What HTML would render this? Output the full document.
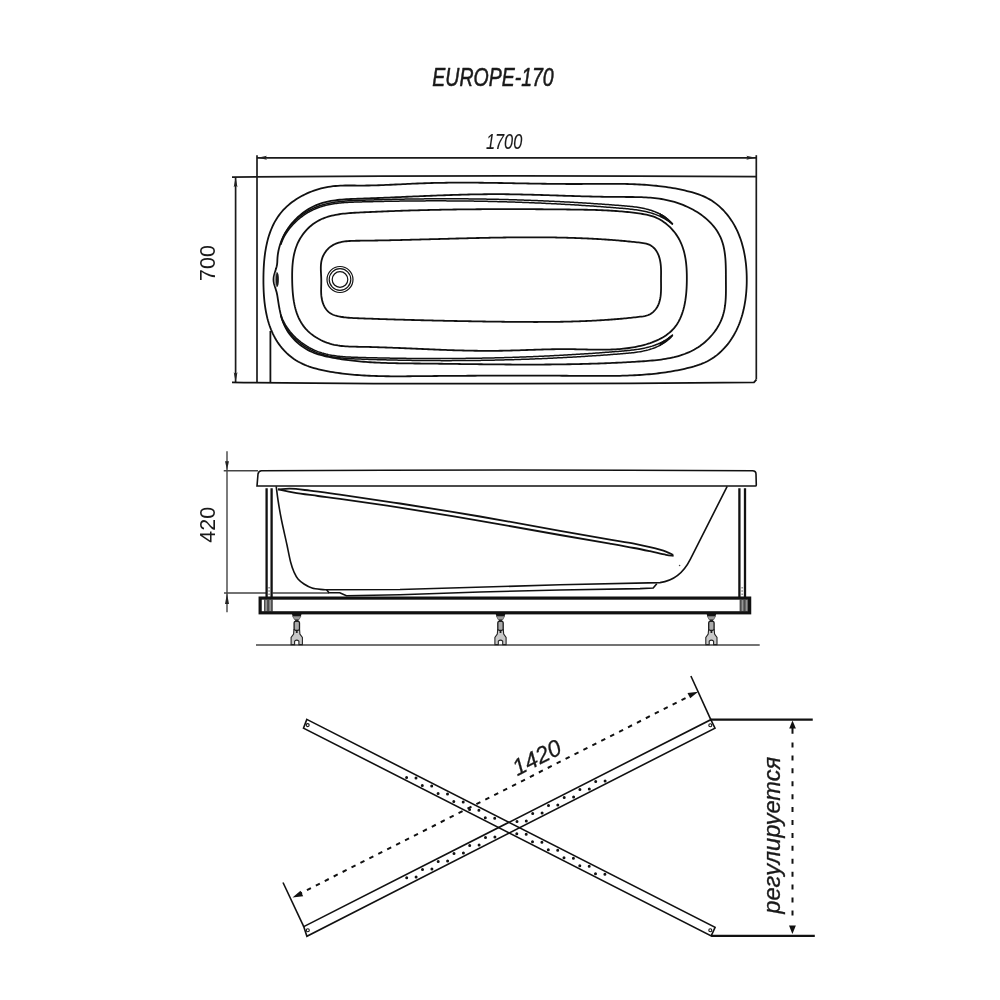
<!DOCTYPE html>
<html><head><meta charset="utf-8"><style>
html,body{margin:0;padding:0;background:#fff;}
svg{display:block;will-change:transform;}
text{font-family:"Liberation Sans",sans-serif;}
</style></head><body>
<svg width="1000" height="1000" viewBox="0 0 1000 1000">
<rect width="1000" height="1000" fill="#fff"/>
<text x="432.3" y="86" font-size="25" font-style="italic" fill="#1a1a1a" stroke="#1a1a1a" stroke-width="0.55" stroke-linejoin="round" textLength="121.4" lengthAdjust="spacingAndGlyphs">EUROPE-170</text>
<text x="485.9" y="149" font-size="21.3" font-style="italic" fill="#1a1a1a" stroke="#1a1a1a" stroke-width="0.1" stroke-linejoin="round" textLength="36.4" lengthAdjust="spacingAndGlyphs">1700</text>

<g stroke="#1a1a1a" stroke-width="1.7" fill="none">
<path d="M257 157.8 H756"/>
<path d="M257 155.2 V382.5"/>
<path d="M756.3 155.2 V379.5"/>
<path d="M232 177.1 Q494 174.7 756.3 176.7"/>
<path d="M235.6 177 V382"/>
</g>
<g fill="#222">
<path d="M257.5 157.8 L267 155.8 L265.3 157.8 L267 159.8 Z"/>
<path d="M755.8 157.8 L746.3 155.8 L748 157.8 L746.3 159.8 Z"/>
<path d="M235.6 177.6 L233.7 187.2 L235.6 185.4 L237.5 187.2 Z"/>
<path d="M235.6 381.8 L233.7 372.2 L235.6 374 L237.5 372.2 Z"/>
</g>
<text transform="translate(215.2,263.1) rotate(-90)" font-size="21.5" text-anchor="middle" fill="#1a1a1a">700</text>

<g stroke="#111" stroke-width="1.8" fill="none">
<path d="M756.4 379.6 L754 382.3 Q493 385.1 232 382.3"/>
<path d="M270.4 331 V382"/>
<path d="M263.43 279.74 L263.44 277.23 L263.48 274.72 L263.54 272.22 L263.63 269.72 L263.75 267.23 L263.90 264.74 L264.08 262.26 L264.30 259.79 L264.55 257.34 L264.85 254.90 L265.18 252.47 L265.56 250.06 L265.98 247.68 L266.45 245.31 L266.96 242.96 L267.53 240.65 L268.15 238.35 L268.82 236.09 L269.55 233.85 L270.34 231.65 L271.18 229.48 L272.09 227.34 L273.06 225.24 L274.09 223.18 L275.20 221.16 L276.37 219.18 L277.61 217.25 L278.93 215.36 L280.32 213.52 L281.79 211.72 L283.33 209.98 L284.96 208.29 L286.66 206.65 L288.43 205.07 L290.27 203.54 L292.18 202.07 L294.15 200.66 L296.17 199.30 L298.24 198.00 L300.37 196.76 L302.54 195.58 L304.75 194.47 L307.00 193.41 L309.28 192.42 L311.59 191.50 L313.92 190.64 L316.28 189.84 L318.66 189.12 L321.05 188.46 L323.45 187.87 L325.86 187.35 L328.27 186.90 L330.68 186.52 L333.09 186.22 L335.49 185.98 L337.89 185.79 L340.29 185.66 L342.68 185.56 L345.07 185.51 L347.47 185.48 L349.86 185.48 L352.25 185.49 L354.64 185.51 L357.03 185.53 L359.43 185.55 L361.83 185.55 L364.23 185.54 L366.63 185.52 L369.03 185.48 L371.44 185.43 L373.85 185.37 L376.26 185.31 L378.67 185.23 L381.08 185.15 L383.49 185.05 L385.91 184.96 L388.32 184.85 L390.74 184.75 L393.16 184.63 L395.57 184.52 L397.99 184.40 L400.41 184.29 L402.83 184.17 L405.25 184.05 L407.67 183.94 L410.09 183.82 L412.51 183.71 L414.92 183.61 L417.34 183.50 L419.76 183.41 L422.18 183.32 L424.59 183.24 L427.01 183.16 L429.42 183.09 L431.83 183.02 L434.25 182.96 L436.66 182.91 L439.07 182.86 L441.48 182.82 L443.89 182.78 L446.30 182.75 L448.71 182.72 L451.12 182.70 L453.53 182.68 L455.94 182.67 L458.35 182.66 L460.75 182.65 L463.16 182.65 L465.57 182.65 L467.98 182.66 L470.38 182.67 L472.79 182.68 L475.19 182.70 L477.60 182.72 L480.01 182.74 L482.41 182.76 L484.82 182.79 L487.22 182.82 L489.63 182.85 L492.03 182.88 L494.44 182.91 L496.84 182.95 L499.25 182.99 L501.65 183.02 L504.06 183.06 L506.46 183.11 L508.87 183.15 L511.28 183.19 L513.68 183.23 L516.09 183.28 L518.50 183.32 L520.90 183.36 L523.31 183.41 L525.72 183.45 L528.13 183.49 L530.53 183.53 L532.94 183.57 L535.35 183.61 L537.76 183.65 L540.17 183.69 L542.58 183.73 L544.99 183.76 L547.41 183.80 L549.82 183.83 L552.23 183.86 L554.64 183.88 L557.06 183.91 L559.47 183.93 L561.89 183.95 L564.31 183.96 L566.72 183.98 L569.14 183.99 L571.56 184.00 L573.98 184.00 L576.40 184.00 L578.82 183.99 L581.25 183.99 L583.67 183.97 L586.09 183.96 L588.52 183.94 L590.95 183.92 L593.37 183.91 L595.80 183.89 L598.22 183.87 L600.65 183.85 L603.08 183.84 L605.50 183.83 L607.93 183.83 L610.35 183.83 L612.78 183.83 L615.20 183.84 L617.63 183.86 L620.05 183.89 L622.47 183.92 L624.89 183.97 L627.31 184.02 L629.73 184.09 L632.15 184.17 L634.56 184.26 L636.97 184.36 L639.39 184.48 L641.80 184.61 L644.20 184.76 L646.61 184.93 L649.01 185.11 L651.41 185.31 L653.81 185.53 L656.21 185.77 L658.60 186.03 L660.99 186.31 L663.38 186.61 L665.76 186.94 L668.14 187.29 L670.52 187.66 L672.89 188.06 L675.26 188.48 L677.63 188.93 L679.99 189.41 L682.35 189.91 L684.71 190.45 L687.06 191.01 L689.40 191.61 L691.74 192.24 L694.07 192.91 L696.37 193.63 L698.66 194.41 L700.92 195.25 L703.15 196.16 L705.34 197.14 L707.49 198.20 L709.60 199.36 L711.66 200.60 L713.67 201.93 L715.62 203.35 L717.52 204.85 L719.35 206.42 L721.13 208.05 L722.84 209.74 L724.49 211.49 L726.07 213.28 L727.59 215.12 L729.03 217.00 L730.42 218.92 L731.74 220.88 L732.99 222.88 L734.18 224.92 L735.31 226.99 L736.39 229.10 L737.40 231.23 L738.35 233.40 L739.25 235.60 L740.09 237.82 L740.88 240.07 L741.61 242.35 L742.29 244.65 L742.91 246.97 L743.49 249.31 L744.01 251.67 L744.49 254.05 L744.91 256.45 L745.29 258.85 L745.63 261.27 L745.92 263.71 L746.16 266.15 L746.36 268.60 L746.52 271.06 L746.64 273.52 L746.72 275.98 L746.75 278.45 L746.75 280.92 L746.72 283.39 L746.64 285.86 L746.52 288.32 L746.36 290.78 L746.16 293.23 L745.92 295.68 L745.63 298.11 L745.29 300.53 L744.91 302.94 L744.49 305.34 L744.01 307.72 L743.49 310.08 L742.91 312.43 L742.29 314.75 L741.61 317.05 L740.88 319.33 L740.09 321.59 L739.25 323.82 L738.35 326.02 L737.40 328.19 L736.39 330.33 L735.32 332.44 L734.18 334.51 L732.99 336.55 L731.74 338.55 L730.42 340.51 L729.04 342.44 L727.59 344.32 L726.07 346.16 L724.49 347.96 L722.85 349.70 L721.13 351.40 L719.36 353.03 L717.52 354.60 L715.62 356.09 L713.67 357.51 L711.66 358.83 L709.60 360.06 L707.49 361.20 L705.34 362.24 L703.15 363.21 L700.92 364.09 L698.66 364.91 L696.37 365.67 L694.06 366.37 L691.73 367.02 L689.39 367.63 L687.05 368.22 L684.70 368.77 L682.34 369.29 L679.98 369.80 L677.62 370.27 L675.25 370.72 L672.88 371.15 L670.51 371.55 L668.13 371.94 L665.75 372.30 L663.37 372.63 L660.98 372.95 L658.59 373.25 L656.20 373.53 L653.81 373.79 L651.41 374.03 L649.01 374.25 L646.61 374.46 L644.20 374.65 L641.80 374.82 L639.39 374.98 L636.98 375.12 L634.57 375.25 L632.15 375.37 L629.74 375.47 L627.32 375.57 L624.90 375.65 L622.49 375.72 L620.07 375.78 L617.64 375.83 L615.22 375.87 L612.80 375.90 L610.37 375.93 L607.95 375.95 L605.52 375.96 L603.10 375.96 L600.67 375.96 L598.25 375.96 L595.82 375.95 L593.40 375.94 L590.97 375.93 L588.55 375.91 L586.12 375.89 L583.70 375.88 L581.27 375.86 L578.85 375.84 L576.43 375.82 L574.00 375.81 L571.58 375.79 L569.16 375.78 L566.74 375.76 L564.32 375.75 L561.91 375.73 L559.49 375.72 L557.07 375.71 L554.65 375.70 L552.24 375.69 L549.82 375.68 L547.41 375.67 L544.99 375.66 L542.58 375.66 L540.17 375.65 L537.75 375.65 L535.34 375.64 L532.93 375.64 L530.52 375.63 L528.11 375.63 L525.70 375.63 L523.29 375.62 L520.88 375.62 L518.47 375.62 L516.06 375.62 L513.65 375.62 L511.24 375.63 L508.83 375.63 L506.42 375.63 L504.02 375.63 L501.61 375.64 L499.20 375.64 L496.79 375.65 L494.39 375.66 L491.98 375.66 L489.57 375.67 L487.17 375.68 L484.76 375.69 L482.36 375.70 L479.95 375.71 L477.54 375.72 L475.14 375.73 L472.73 375.74 L470.33 375.75 L467.92 375.76 L465.51 375.78 L463.11 375.79 L460.70 375.81 L458.30 375.82 L455.89 375.84 L453.48 375.86 L451.08 375.87 L448.67 375.89 L446.27 375.91 L443.86 375.93 L441.45 375.95 L439.04 375.97 L436.64 375.99 L434.23 376.01 L431.82 376.03 L429.41 376.05 L427.01 376.08 L424.60 376.10 L422.19 376.12 L419.78 376.15 L417.37 376.17 L414.96 376.20 L412.55 376.22 L410.14 376.24 L407.73 376.26 L405.32 376.28 L402.91 376.30 L400.50 376.30 L398.08 376.31 L395.67 376.31 L393.26 376.30 L390.85 376.29 L388.44 376.27 L386.02 376.24 L383.61 376.20 L381.20 376.15 L378.79 376.09 L376.38 376.02 L373.96 375.94 L371.55 375.85 L369.14 375.75 L366.73 375.63 L364.32 375.49 L361.90 375.35 L359.49 375.18 L357.08 375.00 L354.67 374.81 L352.26 374.59 L349.85 374.36 L347.44 374.11 L345.03 373.84 L342.62 373.55 L340.21 373.24 L337.80 372.90 L335.39 372.55 L332.98 372.17 L330.57 371.77 L328.16 371.35 L325.76 370.89 L323.36 370.41 L320.97 369.88 L318.60 369.32 L316.24 368.71 L313.90 368.05 L311.58 367.34 L309.29 366.57 L307.02 365.74 L304.79 364.83 L302.60 363.86 L300.44 362.81 L298.33 361.68 L296.26 360.47 L294.24 359.16 L292.27 357.77 L290.36 356.28 L288.51 354.72 L286.72 353.08 L285.01 351.39 L283.37 349.63 L281.81 347.84 L280.34 345.99 L278.94 344.11 L277.61 342.18 L276.36 340.21 L275.18 338.21 L274.07 336.16 L273.03 334.09 L272.06 331.97 L271.15 329.83 L270.30 327.65 L269.51 325.45 L268.78 323.21 L268.11 320.95 L267.49 318.66 L266.92 316.35 L266.41 314.02 L265.94 311.66 L265.52 309.28 L265.14 306.89 L264.81 304.48 L264.52 302.05 L264.27 299.61 L264.05 297.16 L263.87 294.69 L263.73 292.21 L263.61 289.73 L263.53 287.24 L263.47 284.74 L263.43 282.24 L263.43 279.74 Z"/>
<path d="M277.37 259.88 L277.50 257.64 L277.72 255.42 L278.03 253.22 L278.42 251.04 L278.90 248.87 L279.46 246.73 L280.10 244.61 L280.81 242.51 L281.61 240.45 L282.48 238.41 L283.41 236.41 L284.42 234.44 L285.50 232.51 L286.65 230.61 L287.85 228.75 L289.12 226.94 L290.45 225.17 L291.84 223.44 L293.29 221.76 L294.79 220.13 L296.34 218.56 L297.94 217.03 L299.59 215.56 L301.28 214.15 L303.03 212.80 L304.81 211.51 L306.63 210.29 L308.49 209.12 L310.39 208.03 L312.32 207.00 L314.29 206.05 L316.28 205.17 L318.31 204.36 L320.36 203.63 L322.43 202.97 L324.53 202.38 L326.65 201.85 L328.79 201.38 L330.95 200.96 L333.13 200.60 L335.32 200.28 L337.53 200.00 L339.75 199.76 L341.98 199.56 L344.22 199.38 L346.47 199.24 L348.73 199.11 L350.99 199.00 L353.25 198.91 L355.51 198.83 L357.78 198.75 L360.04 198.67 L362.30 198.59 L364.56 198.51 L366.81 198.43 L369.07 198.35 L371.31 198.26 L373.56 198.18 L375.81 198.09 L378.05 198.00 L380.29 197.91 L382.52 197.82 L384.76 197.72 L386.99 197.63 L389.22 197.53 L391.45 197.44 L393.68 197.34 L395.90 197.25 L398.13 197.15 L400.35 197.05 L402.57 196.96 L404.78 196.86 L407.00 196.76 L409.21 196.66 L411.43 196.57 L413.64 196.47 L415.85 196.38 L418.06 196.28 L420.27 196.19 L422.47 196.09 L424.68 196.00 L426.88 195.91 L429.09 195.82 L431.29 195.73 L433.50 195.64 L435.70 195.55 L437.90 195.47 L440.10 195.39 L442.30 195.31 L444.50 195.23 L446.70 195.15 L448.90 195.07 L451.10 195.00 L453.30 194.93 L455.49 194.86 L457.69 194.80 L459.89 194.74 L462.09 194.68 L464.29 194.62 L466.49 194.57 L468.69 194.52 L470.89 194.47 L473.09 194.42 L475.29 194.38 L477.49 194.35 L479.69 194.31 L481.90 194.28 L484.10 194.26 L486.31 194.24 L488.51 194.22 L490.72 194.21 L492.93 194.20 L495.14 194.19 L497.35 194.20 L499.56 194.20 L501.77 194.21 L503.98 194.22 L506.20 194.24 L508.42 194.27 L510.63 194.29 L512.85 194.33 L515.07 194.36 L517.29 194.40 L519.51 194.44 L521.74 194.49 L523.96 194.54 L526.18 194.59 L528.41 194.64 L530.63 194.70 L532.86 194.76 L535.09 194.82 L537.32 194.88 L539.54 194.95 L541.77 195.01 L544.00 195.08 L546.23 195.15 L548.46 195.22 L550.69 195.29 L552.92 195.36 L555.15 195.43 L557.38 195.51 L559.61 195.58 L561.84 195.65 L564.06 195.73 L566.29 195.80 L568.52 195.87 L570.75 195.94 L572.98 196.01 L575.21 196.08 L577.44 196.15 L579.66 196.22 L581.89 196.28 L584.12 196.34 L586.34 196.40 L588.57 196.46 L590.79 196.52 L593.01 196.57 L595.24 196.63 L597.46 196.67 L599.68 196.72 L601.90 196.76 L604.12 196.80 L606.33 196.84 L608.55 196.87 L610.76 196.90 L612.98 196.92 L615.19 196.94 L617.40 196.96 L619.61 196.97 L621.82 196.97 L624.03 196.97 L626.23 196.98 L628.43 196.98 L630.64 196.99 L632.84 197.01 L635.04 197.03 L637.24 197.07 L639.43 197.12 L641.63 197.19 L643.82 197.28 L646.02 197.39 L648.21 197.53 L650.40 197.69 L652.59 197.88 L654.78 198.11 L656.96 198.36 L659.15 198.66 L661.33 199.00 L663.52 199.37 L665.70 199.79 L667.88 200.26 L670.06 200.78 L672.24 201.35 L674.41 201.97 L676.58 202.64 L678.73 203.36 L680.87 204.13 L683.00 204.95 L685.10 205.83 L687.18 206.75 L689.24 207.72 L691.27 208.74 L693.26 209.80 L695.22 210.92 L697.15 212.09 L699.03 213.30 L700.87 214.57 L702.67 215.88 L704.41 217.24 L706.11 218.64 L707.75 220.10 L709.33 221.60 L710.85 223.15 L712.30 224.74 L713.69 226.38 L715.01 228.07 L716.26 229.81 L717.43 231.59 L718.52 233.42 L719.53 235.29 L720.46 237.21 L721.30 239.17 L722.05 241.18 L722.71 243.24 L723.30 245.33 L723.80 247.46 L724.23 249.62 L724.60 251.81 L724.91 254.03 L725.16 256.27 L725.37 258.53 L725.53 260.81 L725.65 263.10 L725.74 265.40 L725.80 267.71 L725.85 270.03 L725.87 272.34 L725.88 274.65 L725.89 276.96 L725.90 279.26 L725.91 281.54 L725.93 283.81 L725.94 286.07 L725.95 288.32 L725.94 290.55 L725.92 292.76 L725.87 294.96 L725.79 297.15 L725.67 299.32 L725.51 301.48 L725.30 303.62 L725.04 305.74 L724.72 307.85 L724.33 309.95 L723.88 312.03 L723.34 314.09 L722.73 316.13 L722.03 318.16 L721.23 320.17 L720.34 322.17 L719.35 324.14 L718.29 326.08 L717.13 327.99 L715.90 329.87 L714.59 331.71 L713.21 333.50 L711.76 335.26 L710.25 336.96 L708.67 338.60 L707.04 340.20 L705.35 341.72 L703.62 343.19 L701.85 344.59 L700.05 345.91 L698.21 347.16 L696.34 348.33 L694.45 349.44 L692.53 350.47 L690.58 351.45 L688.61 352.35 L686.61 353.20 L684.59 353.99 L682.55 354.72 L680.50 355.40 L678.42 356.02 L676.32 356.60 L674.20 357.14 L672.07 357.63 L669.93 358.08 L667.77 358.49 L665.60 358.87 L663.42 359.21 L661.22 359.52 L659.02 359.81 L656.81 360.07 L654.59 360.30 L652.37 360.52 L650.14 360.72 L647.90 360.90 L645.67 361.07 L643.43 361.23 L641.19 361.38 L638.96 361.52 L636.72 361.67 L634.48 361.80 L632.25 361.94 L630.01 362.07 L627.78 362.19 L625.55 362.31 L623.32 362.43 L621.09 362.54 L618.86 362.66 L616.63 362.76 L614.40 362.86 L612.18 362.96 L609.95 363.06 L607.73 363.15 L605.50 363.24 L603.28 363.33 L601.06 363.41 L598.84 363.49 L596.61 363.56 L594.39 363.64 L592.17 363.70 L589.95 363.77 L587.73 363.83 L585.52 363.89 L583.30 363.95 L581.08 364.01 L578.87 364.06 L576.65 364.11 L574.43 364.15 L572.22 364.20 L570.00 364.24 L567.79 364.27 L565.57 364.31 L563.36 364.34 L561.15 364.37 L558.94 364.40 L556.72 364.43 L554.51 364.45 L552.30 364.47 L550.09 364.49 L547.88 364.51 L545.66 364.52 L543.45 364.54 L541.24 364.55 L539.03 364.56 L536.82 364.56 L534.61 364.57 L532.40 364.57 L530.19 364.57 L527.98 364.57 L525.77 364.57 L523.56 364.57 L521.35 364.56 L519.14 364.56 L516.93 364.55 L514.72 364.54 L512.51 364.53 L510.30 364.52 L508.09 364.50 L505.88 364.49 L503.67 364.47 L501.46 364.46 L499.25 364.44 L497.03 364.42 L494.82 364.40 L492.61 364.38 L490.40 364.36 L488.19 364.34 L485.97 364.31 L483.76 364.29 L481.55 364.27 L479.33 364.24 L477.12 364.22 L474.91 364.19 L472.69 364.16 L470.48 364.14 L468.26 364.11 L466.04 364.08 L463.83 364.06 L461.61 364.03 L459.39 364.00 L457.17 363.97 L454.95 363.94 L452.73 363.91 L450.51 363.89 L448.29 363.86 L446.07 363.83 L443.85 363.80 L441.63 363.77 L439.40 363.75 L437.18 363.72 L434.95 363.69 L432.73 363.67 L430.50 363.64 L428.27 363.62 L426.04 363.59 L423.81 363.57 L421.58 363.55 L419.35 363.52 L417.12 363.50 L414.89 363.48 L412.66 363.46 L410.42 363.43 L408.19 363.41 L405.95 363.38 L403.72 363.35 L401.49 363.32 L399.25 363.28 L397.02 363.24 L394.79 363.20 L392.55 363.15 L390.32 363.09 L388.09 363.03 L385.87 362.96 L383.64 362.88 L381.41 362.80 L379.19 362.70 L376.97 362.60 L374.74 362.49 L372.53 362.36 L370.31 362.23 L368.10 362.09 L365.89 361.93 L363.68 361.76 L361.47 361.58 L359.27 361.39 L357.07 361.18 L354.87 360.96 L352.68 360.72 L350.49 360.47 L348.30 360.20 L346.12 359.91 L343.94 359.61 L341.77 359.29 L339.60 358.95 L337.44 358.60 L335.28 358.22 L333.12 357.82 L330.97 357.41 L328.82 356.97 L326.69 356.51 L324.56 356.01 L322.44 355.48 L320.33 354.90 L318.24 354.27 L316.17 353.58 L314.12 352.83 L312.09 352.00 L310.09 351.09 L308.12 350.11 L306.17 349.02 L304.26 347.86 L302.39 346.60 L300.57 345.27 L298.79 343.86 L297.07 342.37 L295.41 340.82 L293.82 339.20 L292.29 337.52 L290.85 335.78 L289.48 333.99 L288.20 332.15 L287.01 330.26 L285.92 328.33 L284.93 326.37 L284.02 324.37 L283.20 322.33 L282.45 320.27 L281.78 318.19 L281.17 316.08 L280.61 313.95 L280.11 311.81 L279.65 309.65 L279.24 307.49 L278.85 305.31 L278.49 303.14 L278.15 300.96 L277.83 298.79 L277.49 296.62 L277.11 294.46 L276.63 292.30 L276.02 290.15 L275.33 288.00 L274.64 285.85 L274.05 283.70 L273.64 281.56 L273.50 279.40 L273.68 277.25 L274.12 275.09 L274.72 272.93 L275.40 270.78 L276.07 268.62 L276.65 266.48 L277.08 264.32 L277.29 262.12 L277.37 259.88 Z"/>
<path d="M292.17 279.59 L292.14 277.61 L292.14 275.64 L292.15 273.68 L292.19 271.72 L292.25 269.77 L292.34 267.83 L292.46 265.90 L292.62 263.98 L292.81 262.07 L293.05 260.17 L293.33 258.28 L293.65 256.41 L294.03 254.55 L294.46 252.71 L294.94 250.88 L295.48 249.06 L296.09 247.27 L296.76 245.49 L297.49 243.73 L298.30 241.99 L299.18 240.27 L300.14 238.58 L301.17 236.90 L302.27 235.27 L303.44 233.66 L304.67 232.11 L305.95 230.60 L307.29 229.15 L308.68 227.76 L310.11 226.44 L311.59 225.19 L313.10 224.02 L314.65 222.92 L316.23 221.91 L317.85 220.96 L319.50 220.09 L321.17 219.28 L322.87 218.54 L324.60 217.86 L326.36 217.24 L328.14 216.67 L329.94 216.15 L331.76 215.68 L333.61 215.26 L335.47 214.88 L337.34 214.54 L339.23 214.24 L341.14 213.97 L343.06 213.73 L344.99 213.52 L346.93 213.33 L348.87 213.17 L350.83 213.02 L352.78 212.89 L354.75 212.77 L356.71 212.66 L358.67 212.56 L360.64 212.46 L362.60 212.36 L364.56 212.27 L366.53 212.17 L368.48 212.08 L370.44 211.99 L372.40 211.90 L374.36 211.81 L376.31 211.73 L378.26 211.64 L380.22 211.56 L382.17 211.48 L384.12 211.40 L386.07 211.32 L388.01 211.25 L389.96 211.17 L391.91 211.10 L393.85 211.03 L395.79 210.96 L397.74 210.89 L399.68 210.82 L401.62 210.76 L403.56 210.69 L405.50 210.63 L407.44 210.57 L409.37 210.51 L411.31 210.45 L413.25 210.40 L415.18 210.34 L417.12 210.29 L419.05 210.24 L420.98 210.19 L422.91 210.14 L424.85 210.09 L426.78 210.04 L428.71 210.00 L430.64 209.95 L432.56 209.91 L434.49 209.87 L436.42 209.83 L438.35 209.79 L440.27 209.75 L442.20 209.71 L444.13 209.68 L446.05 209.65 L447.98 209.61 L449.90 209.58 L451.83 209.55 L453.75 209.52 L455.67 209.49 L457.60 209.47 L459.52 209.44 L461.44 209.42 L463.36 209.39 L465.28 209.37 L467.21 209.35 L469.13 209.33 L471.05 209.31 L472.97 209.29 L474.89 209.28 L476.81 209.26 L478.73 209.25 L480.65 209.23 L482.57 209.22 L484.50 209.21 L486.42 209.20 L488.34 209.19 L490.26 209.18 L492.18 209.17 L494.10 209.17 L496.02 209.16 L497.94 209.16 L499.86 209.15 L501.78 209.15 L503.70 209.15 L505.63 209.14 L507.55 209.14 L509.47 209.14 L511.39 209.15 L513.31 209.15 L515.24 209.15 L517.16 209.15 L519.08 209.16 L521.01 209.16 L522.93 209.17 L524.86 209.18 L526.78 209.18 L528.71 209.19 L530.63 209.20 L532.56 209.21 L534.49 209.22 L536.41 209.23 L538.34 209.24 L540.27 209.26 L542.20 209.27 L544.13 209.28 L546.06 209.30 L547.99 209.31 L549.92 209.33 L551.85 209.34 L553.79 209.36 L555.72 209.38 L557.65 209.40 L559.59 209.42 L561.53 209.43 L563.46 209.45 L565.40 209.47 L567.34 209.49 L569.28 209.52 L571.22 209.54 L573.16 209.56 L575.10 209.58 L577.04 209.61 L578.99 209.63 L580.93 209.66 L582.87 209.69 L584.82 209.73 L586.76 209.77 L588.70 209.81 L590.65 209.85 L592.59 209.90 L594.53 209.96 L596.48 210.02 L598.42 210.08 L600.36 210.16 L602.30 210.23 L604.24 210.32 L606.17 210.41 L608.11 210.51 L610.05 210.62 L611.98 210.73 L613.91 210.85 L615.84 210.99 L617.77 211.13 L619.70 211.28 L621.63 211.44 L623.55 211.61 L625.47 211.80 L627.39 211.99 L629.31 212.19 L631.22 212.41 L633.13 212.64 L635.04 212.88 L636.94 213.14 L638.85 213.41 L640.75 213.69 L642.64 213.99 L644.53 214.32 L646.41 214.68 L648.27 215.09 L650.12 215.56 L651.95 216.10 L653.76 216.71 L655.55 217.41 L657.30 218.19 L659.03 219.07 L660.72 220.02 L662.38 221.05 L664.00 222.16 L665.57 223.33 L667.10 224.57 L668.58 225.86 L670.01 227.21 L671.39 228.61 L672.71 230.06 L673.96 231.55 L675.15 233.07 L676.28 234.63 L677.34 236.21 L678.32 237.82 L679.24 239.46 L680.09 241.12 L680.89 242.81 L681.62 244.51 L682.29 246.24 L682.90 247.99 L683.46 249.77 L683.97 251.56 L684.43 253.37 L684.84 255.20 L685.21 257.05 L685.53 258.91 L685.81 260.80 L686.05 262.69 L686.26 264.61 L686.43 266.53 L686.57 268.47 L686.67 270.42 L686.75 272.39 L686.81 274.37 L686.83 276.35 L686.84 278.35 L686.83 280.35 L686.80 282.37 L686.75 284.39 L686.67 286.41 L686.57 288.43 L686.44 290.45 L686.29 292.46 L686.10 294.47 L685.88 296.47 L685.62 298.45 L685.33 300.43 L685.00 302.38 L684.63 304.32 L684.22 306.23 L683.76 308.12 L683.26 309.99 L682.70 311.82 L682.10 313.63 L681.44 315.40 L680.74 317.13 L679.97 318.83 L679.15 320.49 L678.26 322.10 L677.32 323.67 L676.31 325.19 L675.24 326.65 L674.10 328.07 L672.88 329.43 L671.60 330.73 L670.25 331.98 L668.84 333.17 L667.37 334.31 L665.85 335.40 L664.27 336.44 L662.64 337.42 L660.97 338.36 L659.25 339.25 L657.50 340.09 L655.72 340.89 L653.90 341.64 L652.06 342.36 L650.19 343.03 L648.31 343.65 L646.41 344.25 L644.50 344.80 L642.57 345.31 L640.65 345.79 L638.72 346.24 L636.80 346.65 L634.87 347.03 L632.94 347.38 L631.02 347.70 L629.09 347.99 L627.17 348.26 L625.24 348.50 L623.32 348.71 L621.40 348.90 L619.47 349.06 L617.55 349.21 L615.62 349.33 L613.70 349.44 L611.78 349.52 L609.85 349.59 L607.93 349.65 L606.01 349.68 L604.09 349.71 L602.16 349.72 L600.24 349.72 L598.32 349.72 L596.39 349.70 L594.47 349.67 L592.55 349.64 L590.62 349.60 L588.70 349.56 L586.77 349.52 L584.85 349.47 L582.92 349.42 L581.00 349.37 L579.07 349.33 L577.15 349.28 L575.22 349.24 L573.30 349.21 L571.37 349.18 L569.44 349.16 L567.52 349.14 L565.59 349.14 L563.66 349.14 L561.73 349.15 L559.80 349.16 L557.87 349.18 L555.94 349.20 L554.01 349.24 L552.08 349.27 L550.15 349.31 L548.22 349.36 L546.29 349.41 L544.36 349.46 L542.43 349.51 L540.50 349.57 L538.56 349.63 L536.63 349.69 L534.70 349.76 L532.77 349.82 L530.83 349.89 L528.90 349.96 L526.97 350.02 L525.03 350.09 L523.10 350.16 L521.17 350.22 L519.23 350.28 L517.30 350.35 L515.37 350.41 L513.43 350.47 L511.50 350.52 L509.57 350.57 L507.63 350.62 L505.70 350.67 L503.76 350.71 L501.83 350.74 L499.90 350.77 L497.96 350.80 L496.03 350.82 L494.10 350.84 L492.16 350.85 L490.23 350.85 L488.29 350.86 L486.36 350.85 L484.43 350.85 L482.49 350.83 L480.56 350.82 L478.63 350.80 L476.69 350.77 L474.76 350.75 L472.83 350.71 L470.90 350.68 L468.96 350.64 L467.03 350.60 L465.10 350.55 L463.17 350.51 L461.23 350.46 L459.30 350.40 L457.37 350.35 L455.44 350.29 L453.50 350.23 L451.57 350.16 L449.64 350.10 L447.71 350.03 L445.78 349.96 L443.85 349.89 L441.91 349.81 L439.98 349.74 L438.05 349.66 L436.12 349.58 L434.19 349.50 L432.26 349.42 L430.33 349.34 L428.40 349.26 L426.47 349.18 L424.54 349.10 L422.61 349.01 L420.68 348.93 L418.75 348.84 L416.82 348.76 L414.89 348.67 L412.96 348.59 L411.03 348.51 L409.10 348.42 L407.18 348.34 L405.25 348.26 L403.32 348.18 L401.39 348.09 L399.46 348.01 L397.53 347.94 L395.61 347.86 L393.68 347.78 L391.75 347.71 L389.83 347.63 L387.90 347.56 L385.97 347.49 L384.05 347.43 L382.12 347.36 L380.19 347.30 L378.27 347.24 L376.34 347.18 L374.42 347.12 L372.49 347.07 L370.57 347.02 L368.64 346.97 L366.72 346.93 L364.79 346.89 L362.87 346.85 L360.95 346.82 L359.02 346.79 L357.10 346.76 L355.18 346.72 L353.25 346.68 L351.33 346.63 L349.42 346.55 L347.50 346.46 L345.59 346.34 L343.67 346.18 L341.77 345.99 L339.86 345.76 L337.96 345.48 L336.06 345.14 L334.16 344.76 L332.27 344.31 L330.39 343.80 L328.51 343.21 L326.64 342.56 L324.79 341.84 L322.95 341.06 L321.14 340.21 L319.36 339.30 L317.62 338.33 L315.91 337.30 L314.25 336.21 L312.64 335.06 L311.09 333.87 L309.59 332.61 L308.17 331.31 L306.81 329.96 L305.52 328.56 L304.32 327.12 L303.18 325.63 L302.12 324.10 L301.13 322.53 L300.21 320.92 L299.35 319.27 L298.55 317.59 L297.82 315.88 L297.14 314.13 L296.52 312.36 L295.95 310.56 L295.43 308.73 L294.96 306.88 L294.54 305.01 L294.16 303.12 L293.82 301.22 L293.52 299.29 L293.26 297.35 L293.03 295.40 L292.83 293.44 L292.67 291.47 L292.53 289.50 L292.42 287.52 L292.32 285.53 L292.25 283.55 L292.20 281.57 L292.17 279.59 Z"/>
<path d="M321.27 279.78 L321.23 278.15 L321.16 276.51 L321.07 274.87 L320.99 273.23 L320.91 271.59 L320.85 269.95 L320.83 268.33 L320.85 266.71 L320.92 265.11 L321.06 263.53 L321.28 261.96 L321.58 260.42 L321.99 258.91 L322.50 257.42 L323.10 255.98 L323.80 254.57 L324.58 253.22 L325.44 251.92 L326.38 250.68 L327.39 249.52 L328.46 248.42 L329.59 247.41 L330.77 246.48 L332.00 245.65 L333.27 244.90 L334.59 244.23 L335.95 243.64 L337.34 243.13 L338.77 242.68 L340.23 242.29 L341.72 241.96 L343.24 241.68 L344.78 241.45 L346.34 241.26 L347.93 241.11 L349.53 241.00 L351.14 240.91 L352.76 240.85 L354.39 240.80 L356.03 240.77 L357.67 240.75 L359.31 240.73 L360.95 240.71 L362.59 240.70 L364.23 240.68 L365.86 240.66 L367.49 240.64 L369.12 240.61 L370.75 240.59 L372.37 240.57 L374.00 240.54 L375.62 240.51 L377.24 240.49 L378.86 240.46 L380.47 240.43 L382.09 240.40 L383.70 240.37 L385.31 240.34 L386.92 240.31 L388.53 240.28 L390.14 240.24 L391.74 240.21 L393.34 240.18 L394.94 240.14 L396.54 240.10 L398.14 240.07 L399.74 240.03 L401.34 239.99 L402.93 239.96 L404.52 239.92 L406.12 239.88 L407.71 239.84 L409.30 239.80 L410.88 239.76 L412.47 239.72 L414.06 239.68 L415.64 239.64 L417.23 239.59 L418.81 239.55 L420.39 239.51 L421.97 239.47 L423.55 239.43 L425.13 239.38 L426.71 239.34 L428.29 239.30 L429.87 239.25 L431.44 239.21 L433.02 239.17 L434.59 239.12 L436.17 239.08 L437.74 239.04 L439.31 238.99 L440.89 238.95 L442.46 238.91 L444.03 238.86 L445.60 238.82 L447.17 238.78 L448.74 238.73 L450.31 238.69 L451.88 238.65 L453.45 238.61 L455.02 238.56 L456.59 238.52 L458.16 238.48 L459.73 238.44 L461.30 238.40 L462.87 238.36 L464.44 238.32 L466.00 238.28 L467.57 238.24 L469.14 238.20 L470.71 238.16 L472.28 238.12 L473.85 238.09 L475.42 238.05 L476.99 238.01 L478.56 237.98 L480.13 237.94 L481.70 237.91 L483.27 237.88 L484.84 237.84 L486.42 237.81 L487.99 237.78 L489.56 237.75 L491.14 237.72 L492.71 237.69 L494.28 237.66 L495.86 237.63 L497.44 237.60 L499.01 237.58 L500.59 237.55 L502.17 237.53 L503.75 237.51 L505.33 237.48 L506.91 237.46 L508.49 237.44 L510.07 237.42 L511.66 237.41 L513.24 237.39 L514.82 237.37 L516.41 237.36 L517.99 237.35 L519.58 237.34 L521.17 237.33 L522.75 237.32 L524.34 237.31 L525.93 237.30 L527.52 237.30 L529.10 237.29 L530.69 237.29 L532.28 237.29 L533.87 237.29 L535.46 237.30 L537.05 237.30 L538.64 237.31 L540.23 237.32 L541.82 237.33 L543.41 237.34 L545.01 237.35 L546.60 237.37 L548.19 237.38 L549.78 237.40 L551.37 237.42 L552.97 237.45 L554.56 237.47 L556.15 237.50 L557.74 237.53 L559.33 237.56 L560.93 237.59 L562.52 237.62 L564.11 237.66 L565.70 237.70 L567.29 237.74 L568.89 237.79 L570.48 237.83 L572.07 237.88 L573.66 237.93 L575.25 237.99 L576.84 238.04 L578.43 238.10 L580.02 238.16 L581.61 238.23 L583.20 238.29 L584.79 238.36 L586.38 238.43 L587.97 238.51 L589.56 238.58 L591.15 238.66 L592.74 238.75 L594.32 238.83 L595.91 238.92 L597.50 239.01 L599.08 239.10 L600.67 239.20 L602.25 239.30 L603.84 239.40 L605.42 239.51 L607.00 239.62 L608.58 239.73 L610.17 239.84 L611.75 239.96 L613.33 240.08 L614.91 240.21 L616.48 240.33 L618.06 240.47 L619.64 240.60 L621.22 240.74 L622.79 240.88 L624.37 241.02 L625.94 241.17 L627.51 241.32 L629.08 241.48 L630.65 241.63 L632.22 241.80 L633.79 241.96 L635.36 242.13 L636.93 242.30 L638.49 242.48 L640.06 242.66 L641.62 242.84 L643.18 243.05 L644.72 243.30 L646.23 243.63 L647.70 244.06 L649.13 244.61 L650.50 245.31 L651.80 246.15 L653.03 247.13 L654.19 248.22 L655.25 249.42 L656.22 250.71 L657.09 252.10 L657.85 253.56 L658.51 255.07 L659.07 256.64 L659.55 258.24 L659.95 259.86 L660.27 261.49 L660.53 263.11 L660.72 264.71 L660.87 266.29 L660.97 267.85 L661.03 269.40 L661.07 270.95 L661.07 272.49 L661.07 274.03 L661.05 275.58 L661.03 277.13 L661.02 278.71 L661.02 280.30 L661.03 281.91 L661.05 283.54 L661.06 285.18 L661.07 286.83 L661.06 288.48 L661.02 290.13 L660.96 291.78 L660.86 293.42 L660.72 295.05 L660.52 296.66 L660.26 298.26 L659.94 299.82 L659.55 301.36 L659.08 302.87 L658.52 304.35 L657.86 305.78 L657.11 307.17 L656.25 308.51 L655.28 309.79 L654.22 310.99 L653.07 312.09 L651.84 313.09 L650.54 313.96 L649.17 314.69 L647.74 315.27 L646.26 315.71 L644.74 316.06 L643.19 316.32 L641.63 316.54 L640.05 316.73 L638.48 316.92 L636.90 317.11 L635.33 317.29 L633.76 317.47 L632.18 317.64 L630.60 317.81 L629.03 317.97 L627.45 318.13 L625.88 318.29 L624.30 318.44 L622.72 318.59 L621.14 318.73 L619.56 318.87 L617.99 319.01 L616.41 319.14 L614.83 319.27 L613.25 319.39 L611.67 319.52 L610.09 319.63 L608.51 319.75 L606.93 319.86 L605.35 319.97 L603.77 320.07 L602.19 320.17 L600.60 320.27 L599.02 320.36 L597.44 320.45 L595.86 320.54 L594.27 320.63 L592.69 320.71 L591.11 320.79 L589.53 320.86 L587.94 320.94 L586.36 321.01 L584.78 321.07 L583.19 321.14 L581.61 321.20 L580.02 321.26 L578.44 321.31 L576.85 321.37 L575.27 321.42 L573.68 321.46 L572.10 321.51 L570.51 321.55 L568.93 321.59 L567.34 321.63 L565.76 321.67 L564.17 321.70 L562.59 321.73 L561.00 321.76 L559.41 321.79 L557.83 321.82 L556.24 321.84 L554.66 321.86 L553.07 321.88 L551.48 321.90 L549.90 321.91 L548.31 321.93 L546.72 321.94 L545.14 321.95 L543.55 321.96 L541.96 321.96 L540.38 321.97 L538.79 321.97 L537.20 321.98 L535.62 321.98 L534.03 321.98 L532.45 321.97 L530.86 321.97 L529.27 321.97 L527.69 321.96 L526.10 321.95 L524.51 321.95 L522.93 321.94 L521.34 321.93 L519.76 321.92 L518.17 321.90 L516.58 321.89 L515.00 321.88 L513.41 321.86 L511.83 321.85 L510.24 321.83 L508.66 321.81 L507.07 321.80 L505.49 321.78 L503.90 321.76 L502.32 321.74 L500.73 321.72 L499.15 321.70 L497.56 321.68 L495.98 321.66 L494.40 321.64 L492.81 321.62 L491.23 321.59 L489.64 321.57 L488.06 321.55 L486.48 321.53 L484.89 321.50 L483.31 321.48 L481.73 321.45 L480.15 321.43 L478.56 321.40 L476.98 321.38 L475.40 321.35 L473.82 321.33 L472.23 321.30 L470.65 321.27 L469.07 321.24 L467.49 321.22 L465.90 321.19 L464.32 321.16 L462.74 321.13 L461.16 321.10 L459.58 321.07 L457.99 321.04 L456.41 321.01 L454.83 320.98 L453.25 320.95 L451.67 320.91 L450.08 320.88 L448.50 320.85 L446.92 320.82 L445.34 320.78 L443.76 320.75 L442.18 320.71 L440.59 320.68 L439.01 320.64 L437.43 320.61 L435.85 320.57 L434.26 320.53 L432.68 320.50 L431.10 320.46 L429.52 320.42 L427.94 320.38 L426.35 320.34 L424.77 320.31 L423.19 320.27 L421.60 320.23 L420.02 320.19 L418.44 320.14 L416.86 320.10 L415.27 320.06 L413.69 320.02 L412.11 319.98 L410.52 319.93 L408.94 319.89 L407.35 319.85 L405.77 319.80 L404.19 319.76 L402.60 319.71 L401.02 319.67 L399.43 319.62 L397.85 319.57 L396.26 319.53 L394.68 319.48 L393.09 319.43 L391.51 319.38 L389.92 319.34 L388.33 319.29 L386.75 319.24 L385.16 319.19 L383.58 319.14 L381.99 319.09 L380.40 319.03 L378.81 318.98 L377.23 318.93 L375.64 318.88 L374.05 318.83 L372.46 318.77 L370.87 318.72 L369.28 318.66 L367.69 318.61 L366.11 318.55 L364.52 318.50 L362.93 318.44 L361.33 318.38 L359.74 318.33 L358.15 318.27 L356.56 318.21 L354.97 318.14 L353.38 318.06 L351.79 317.97 L350.20 317.86 L348.61 317.74 L347.02 317.60 L345.44 317.43 L343.85 317.24 L342.27 317.01 L340.69 316.76 L339.11 316.47 L337.54 316.13 L335.99 315.74 L334.48 315.27 L333.02 314.72 L331.62 314.07 L330.30 313.30 L329.07 312.40 L327.94 311.38 L326.89 310.25 L325.94 309.03 L325.08 307.72 L324.31 306.34 L323.62 304.89 L323.03 303.41 L322.52 301.88 L322.10 300.34 L321.77 298.79 L321.51 297.23 L321.33 295.67 L321.21 294.11 L321.14 292.54 L321.11 290.97 L321.12 289.39 L321.15 287.81 L321.19 286.22 L321.23 284.62 L321.26 283.02 L321.28 281.40 L321.27 279.78 Z"/>
</g>
<g stroke="#111" stroke-width="1.5" fill="none">
<path d="M280.62 244.47 L280.97 243.12 L281.36 241.78 L281.80 240.46 L282.27 239.16 L282.79 237.88 L283.35 236.62 L283.95 235.38 L284.58 234.15 L285.26 232.95 L285.96 231.76 L286.71 230.60 L287.48 229.45 L288.29 228.32 L289.13 227.22 L289.99 226.13 L290.89 225.06 L291.81 224.02 L292.77 222.99 L293.74 221.99 L294.74 221.00 L295.76 220.04 L296.81 219.10 L297.87 218.18 L298.96 217.28 L300.06 216.40 L301.18 215.55 L302.32 214.72 L303.47 213.91 L304.64 213.13 L305.83 212.37 L307.03 211.64 L308.24 210.93 L309.46 210.25 L310.70 209.59 L311.95 208.97 L313.20 208.37 L314.47 207.80 L315.74 207.26 L317.02 206.74 L318.31 206.26 L319.61 205.80 L320.91 205.37 L322.22 204.96 L323.54 204.58 L324.86 204.22 L326.19 203.88 L327.53 203.57 L328.87 203.27 L330.22 203.00 L331.57 202.74 L332.92 202.51 L334.28 202.29 L335.65 202.08 L337.02 201.90 L338.39 201.72 L339.77 201.57 L341.15 201.42 L342.53 201.29 L343.91 201.17 L345.30 201.06 L346.69 200.96 L348.08 200.86 L349.48 200.78 L350.87 200.70 L352.27 200.63 L353.67 200.57 L355.07 200.51 L356.47 200.45 L357.87 200.40 L359.27 200.35 L360.67 200.30 L362.07 200.25 L363.46 200.20 L364.86 200.15 L366.26 200.11 L367.66 200.06 L369.06 200.02 L370.46 199.97 L371.85 199.93 L373.25 199.89 L374.65 199.84 L376.04 199.80 L377.44 199.76 L378.83 199.72 L380.23 199.68 L381.63 199.64 L383.02 199.61 L384.41 199.57 L385.81 199.54 L387.20 199.50 L388.60 199.47 L389.99 199.43 L391.38 199.40 L392.78 199.37 L394.17 199.34 L395.56 199.31 L396.96 199.28 L398.35 199.25 L399.74 199.22 L401.13 199.20 L402.52 199.17 L403.92 199.14 L405.31 199.12 L406.70 199.10 L408.09 199.07 L409.48 199.05 L410.87 199.03 L412.26 199.01 L413.65 198.99 L415.04 198.97 L416.43 198.95 L417.82 198.94 L419.21 198.92 L420.60 198.91 L421.99 198.89 L423.38 198.88 L424.77 198.86 L426.15 198.85 L427.54 198.84 L428.93 198.83 L430.32 198.82 L431.71 198.81 L433.10 198.80 L434.48 198.80 L435.87 198.79 L437.26 198.78 L438.65 198.78 L440.03 198.78 L441.42 198.77 L442.81 198.77 L444.20 198.77 L445.58 198.77 L446.97 198.77 L448.36 198.77 L449.74 198.77 L451.13 198.77 L452.52 198.78 L453.90 198.78 L455.29 198.79 L456.68 198.79 L458.06 198.80 L459.45 198.81 L460.83 198.82 L462.22 198.83 L463.61 198.84 L464.99 198.85 L466.38 198.86 L467.76 198.87 L469.15 198.88 L470.54 198.90 L471.92 198.91 L473.31 198.93 L474.69 198.95 L476.08 198.97 L477.47 198.98 L478.85 199.00 L480.24 199.02 L481.62 199.04 L483.01 199.07 L484.39 199.09 L485.78 199.11 L487.17 199.14 L488.55 199.16 L489.94 199.19 L491.32 199.22 L492.71 199.24 L494.10 199.27 L495.48 199.30 L496.87 199.33 L498.25 199.37 L499.64 199.40 L501.03 199.43 L502.41 199.46 L503.80 199.50 L505.19 199.54 L506.57 199.57 L507.96 199.61 L509.35 199.65 L510.73 199.69 L512.12 199.73 L513.51 199.77 L514.89 199.81 L516.28 199.85 L517.67 199.90 L519.05 199.94 L520.44 199.98 L521.83 200.03 L523.22 200.08 L524.60 200.13 L525.99 200.17 L527.38 200.22 L528.77 200.27 L530.16 200.33 L531.55 200.38 L532.93 200.43 L534.32 200.48 L535.71 200.54 L537.10 200.59 L538.49 200.65 L539.88 200.71 L541.27 200.77 L542.66 200.83 L544.05 200.89 L545.44 200.95 L546.83 201.01 L548.22 201.07 L549.61 201.14 L551.00 201.20 L552.39 201.27 L553.78 201.33 L555.17 201.40 L556.56 201.47 L557.95 201.54 L559.35 201.61 L560.74 201.68 L562.13 201.75 L563.52 201.82 L564.92 201.89 L566.31 201.97 L567.70 202.04 L569.10 202.12 L570.49 202.20 L571.88 202.27 L573.28 202.35 L574.67 202.43 L576.07 202.51 L577.46 202.59 L578.86 202.68 L580.25 202.76 L581.65 202.84 L583.04 202.93 L584.44 203.01 L585.84 203.10 L587.23 203.19 L588.63 203.28 L590.03 203.37 L591.43 203.46 L592.82 203.55 L594.22 203.64 L595.62 203.73 L597.02 203.83 L598.42 203.92 L599.82 204.02 L601.22 204.11 L602.62 204.21 L604.02 204.31 L605.42 204.41 L606.82 204.51 L608.22 204.61 L609.62 204.71 L611.03 204.82 L612.43 204.92 L613.83 205.03 L615.24 205.13 L616.64 205.24 L618.04 205.35 L619.45 205.45 L620.85 205.56 L622.26 205.67 L623.66 205.79 L625.07 205.91 L626.47 206.03 L627.87 206.16 L629.27 206.29 L630.66 206.43 L632.05 206.59 L633.44 206.75 L634.83 206.92 L636.21 207.11 L637.58 207.31 L638.95 207.52 L640.31 207.76 L641.66 208.00 L643.01 208.27 L644.35 208.56 L645.68 208.86 L647.00 209.19 L648.32 209.54 L649.62 209.92 L650.91 210.32 L652.20 210.74 L653.47 211.19 L654.73 211.67 L655.97 212.19 L657.21 212.73 L658.43 213.30 L659.63 213.90 L660.83 214.54 L662.00 215.22 L663.17 215.93 L664.31 216.68 L665.44 217.46 L666.56 218.29 L667.65 219.15 L668.73 220.06 L669.79 221.01 L670.83 222.01 L671.85 223.05 L672.86 224.14"/>
<path d="M280.87 244.51 L281.32 243.22 L281.80 241.94 L282.32 240.68 L282.87 239.43 L283.46 238.19 L284.08 236.97 L284.74 235.76 L285.42 234.57 L286.14 233.40 L286.89 232.24 L287.67 231.09 L288.48 229.97 L289.32 228.86 L290.18 227.77 L291.07 226.70 L291.98 225.65 L292.92 224.61 L293.88 223.60 L294.87 222.61 L295.87 221.64 L296.90 220.69 L297.95 219.76 L299.01 218.86 L300.10 217.97 L301.20 217.11 L302.32 216.28 L303.45 215.47 L304.60 214.68 L305.77 213.92 L306.95 213.18 L308.14 212.47 L309.34 211.78 L310.56 211.12 L311.79 210.49 L313.02 209.89 L314.27 209.32 L315.53 208.77 L316.79 208.25 L318.06 207.76 L319.34 207.30 L320.63 206.86 L321.92 206.45 L323.22 206.07 L324.53 205.71 L325.84 205.37 L327.16 205.06 L328.48 204.76 L329.81 204.49 L331.15 204.24 L332.49 204.00 L333.83 203.79 L335.18 203.59 L336.54 203.41 L337.90 203.24 L339.26 203.09 L340.62 202.95 L341.99 202.82 L343.36 202.71 L344.73 202.60 L346.11 202.51 L347.49 202.43 L348.87 202.35 L350.25 202.28 L351.64 202.22 L353.02 202.17 L354.41 202.12 L355.80 202.07 L357.18 202.03 L358.57 201.99 L359.96 201.95 L361.35 201.91 L362.73 201.87 L364.12 201.84 L365.51 201.80 L366.90 201.76 L368.28 201.73 L369.67 201.69 L371.06 201.66 L372.44 201.63 L373.83 201.59 L375.21 201.56 L376.60 201.53 L377.99 201.50 L379.37 201.47 L380.76 201.44 L382.14 201.41 L383.53 201.39 L384.91 201.36 L386.29 201.33 L387.68 201.31 L389.06 201.28 L390.45 201.26 L391.83 201.24 L393.21 201.21 L394.60 201.19 L395.98 201.17 L397.36 201.15 L398.75 201.13 L400.13 201.11 L401.51 201.09 L402.89 201.07 L404.28 201.05 L405.66 201.04 L407.04 201.02 L408.42 201.01 L409.81 200.99 L411.19 200.98 L412.57 200.97 L413.95 200.95 L415.33 200.94 L416.71 200.93 L418.09 200.92 L419.47 200.91 L420.86 200.90 L422.24 200.89 L423.62 200.89 L425.00 200.88 L426.38 200.87 L427.76 200.87 L429.14 200.86 L430.52 200.86 L431.90 200.86 L433.28 200.86 L434.66 200.85 L436.04 200.85 L437.42 200.85 L438.80 200.86 L440.18 200.86 L441.55 200.86 L442.93 200.86 L444.31 200.87 L445.69 200.87 L447.07 200.88 L448.45 200.88 L449.83 200.89 L451.21 200.90 L452.59 200.91 L453.96 200.91 L455.34 200.92 L456.72 200.93 L458.10 200.95 L459.48 200.96 L460.86 200.97 L462.24 200.99 L463.61 201.00 L464.99 201.02 L466.37 201.03 L467.75 201.05 L469.13 201.07 L470.50 201.09 L471.88 201.10 L473.26 201.12 L474.64 201.15 L476.01 201.17 L477.39 201.19 L478.77 201.21 L480.15 201.24 L481.53 201.26 L482.90 201.29 L484.28 201.31 L485.66 201.34 L487.04 201.37 L488.41 201.40 L489.79 201.43 L491.17 201.46 L492.55 201.49 L493.92 201.52 L495.30 201.56 L496.68 201.59 L498.06 201.63 L499.43 201.66 L500.81 201.70 L502.19 201.73 L503.57 201.77 L504.94 201.81 L506.32 201.85 L507.70 201.89 L509.08 201.93 L510.45 201.98 L511.83 202.02 L513.21 202.06 L514.59 202.11 L515.96 202.15 L517.34 202.20 L518.72 202.25 L520.10 202.29 L521.47 202.34 L522.85 202.39 L524.23 202.44 L525.61 202.50 L526.98 202.55 L528.36 202.60 L529.74 202.66 L531.12 202.71 L532.50 202.77 L533.87 202.82 L535.25 202.88 L536.63 202.94 L538.01 203.00 L539.39 203.06 L540.77 203.12 L542.14 203.18 L543.52 203.25 L544.90 203.31 L546.28 203.38 L547.66 203.44 L549.04 203.51 L550.42 203.57 L551.79 203.64 L553.17 203.71 L554.55 203.78 L555.93 203.85 L557.31 203.93 L558.69 204.00 L560.07 204.07 L561.45 204.15 L562.83 204.22 L564.21 204.30 L565.59 204.38 L566.97 204.46 L568.35 204.53 L569.73 204.61 L571.11 204.70 L572.49 204.78 L573.87 204.86 L575.25 204.94 L576.63 205.03 L578.01 205.12 L579.39 205.20 L580.77 205.29 L582.15 205.38 L583.53 205.47 L584.92 205.56 L586.30 205.65 L587.68 205.74 L589.06 205.83 L590.44 205.93 L591.82 206.02 L593.21 206.12 L594.59 206.22 L595.97 206.32 L597.35 206.41 L598.74 206.51 L600.12 206.62 L601.50 206.72 L602.88 206.82 L604.27 206.92 L605.65 207.03 L607.04 207.13 L608.42 207.24 L609.80 207.35 L611.19 207.46 L612.57 207.57 L613.96 207.68 L615.34 207.79 L616.72 207.90 L618.11 208.01 L619.49 208.13 L620.88 208.25 L622.27 208.36 L623.65 208.48 L625.03 208.60 L626.42 208.73 L627.80 208.86 L629.18 209.00 L630.56 209.15 L631.93 209.30 L633.31 209.47 L634.68 209.64 L636.04 209.83 L637.40 210.02 L638.76 210.23 L640.12 210.46 L641.47 210.70 L642.81 210.95 L644.15 211.22 L645.48 211.51 L646.81 211.82 L648.13 212.15 L649.44 212.50 L650.75 212.87 L652.05 213.26 L653.34 213.68 L654.62 214.12 L655.89 214.59 L657.16 215.08 L658.41 215.60 L659.66 216.15 L660.90 216.73 L662.12 217.33 L663.34 217.97 L664.54 218.65 L665.73 219.35 L666.91 220.09 L668.08 220.87 L669.24 221.68 L670.39 222.52 L671.52 223.41 L672.63 224.33"/>
<path d="M280.62 314.93 L280.97 316.28 L281.36 317.62 L281.80 318.94 L282.27 320.24 L282.79 321.52 L283.35 322.78 L283.95 324.02 L284.58 325.25 L285.26 326.45 L285.96 327.64 L286.71 328.80 L287.48 329.95 L288.29 331.08 L289.13 332.18 L289.99 333.27 L290.89 334.34 L291.81 335.38 L292.77 336.41 L293.74 337.41 L294.74 338.40 L295.76 339.36 L296.81 340.30 L297.87 341.22 L298.96 342.12 L300.06 343.00 L301.18 343.85 L302.32 344.68 L303.47 345.49 L304.64 346.27 L305.83 347.03 L307.03 347.76 L308.24 348.47 L309.46 349.15 L310.70 349.81 L311.95 350.43 L313.20 351.03 L314.47 351.60 L315.74 352.14 L317.02 352.66 L318.31 353.14 L319.61 353.60 L320.91 354.03 L322.22 354.44 L323.54 354.82 L324.86 355.18 L326.19 355.52 L327.53 355.83 L328.87 356.13 L330.22 356.40 L331.57 356.66 L332.92 356.89 L334.28 357.11 L335.65 357.32 L337.02 357.50 L338.39 357.68 L339.77 357.83 L341.15 357.98 L342.53 358.11 L343.91 358.23 L345.30 358.34 L346.69 358.44 L348.08 358.54 L349.48 358.62 L350.87 358.70 L352.27 358.77 L353.67 358.83 L355.07 358.89 L356.47 358.95 L357.87 359.00 L359.27 359.05 L360.67 359.10 L362.07 359.15 L363.46 359.20 L364.86 359.25 L366.26 359.29 L367.66 359.34 L369.06 359.38 L370.46 359.43 L371.85 359.47 L373.25 359.51 L374.65 359.56 L376.04 359.60 L377.44 359.64 L378.83 359.68 L380.23 359.72 L381.63 359.76 L383.02 359.79 L384.41 359.83 L385.81 359.86 L387.20 359.90 L388.60 359.93 L389.99 359.97 L391.38 360.00 L392.78 360.03 L394.17 360.06 L395.56 360.09 L396.96 360.12 L398.35 360.15 L399.74 360.18 L401.13 360.20 L402.52 360.23 L403.92 360.26 L405.31 360.28 L406.70 360.30 L408.09 360.33 L409.48 360.35 L410.87 360.37 L412.26 360.39 L413.65 360.41 L415.04 360.43 L416.43 360.45 L417.82 360.46 L419.21 360.48 L420.60 360.49 L421.99 360.51 L423.38 360.52 L424.77 360.54 L426.15 360.55 L427.54 360.56 L428.93 360.57 L430.32 360.58 L431.71 360.59 L433.10 360.60 L434.48 360.60 L435.87 360.61 L437.26 360.62 L438.65 360.62 L440.03 360.62 L441.42 360.63 L442.81 360.63 L444.20 360.63 L445.58 360.63 L446.97 360.63 L448.36 360.63 L449.74 360.63 L451.13 360.63 L452.52 360.62 L453.90 360.62 L455.29 360.61 L456.68 360.61 L458.06 360.60 L459.45 360.59 L460.83 360.58 L462.22 360.57 L463.61 360.56 L464.99 360.55 L466.38 360.54 L467.76 360.53 L469.15 360.52 L470.54 360.50 L471.92 360.49 L473.31 360.47 L474.69 360.45 L476.08 360.43 L477.47 360.42 L478.85 360.40 L480.24 360.38 L481.62 360.36 L483.01 360.33 L484.39 360.31 L485.78 360.29 L487.17 360.26 L488.55 360.24 L489.94 360.21 L491.32 360.18 L492.71 360.16 L494.10 360.13 L495.48 360.10 L496.87 360.07 L498.25 360.03 L499.64 360.00 L501.03 359.97 L502.41 359.94 L503.80 359.90 L505.19 359.86 L506.57 359.83 L507.96 359.79 L509.35 359.75 L510.73 359.71 L512.12 359.67 L513.51 359.63 L514.89 359.59 L516.28 359.55 L517.67 359.50 L519.05 359.46 L520.44 359.42 L521.83 359.37 L523.22 359.32 L524.60 359.27 L525.99 359.23 L527.38 359.18 L528.77 359.13 L530.16 359.07 L531.55 359.02 L532.93 358.97 L534.32 358.92 L535.71 358.86 L537.10 358.81 L538.49 358.75 L539.88 358.69 L541.27 358.63 L542.66 358.57 L544.05 358.51 L545.44 358.45 L546.83 358.39 L548.22 358.33 L549.61 358.26 L551.00 358.20 L552.39 358.13 L553.78 358.07 L555.17 358.00 L556.56 357.93 L557.95 357.86 L559.35 357.79 L560.74 357.72 L562.13 357.65 L563.52 357.58 L564.92 357.51 L566.31 357.43 L567.70 357.36 L569.10 357.28 L570.49 357.20 L571.88 357.13 L573.28 357.05 L574.67 356.97 L576.07 356.89 L577.46 356.81 L578.86 356.72 L580.25 356.64 L581.65 356.56 L583.04 356.47 L584.44 356.39 L585.84 356.30 L587.23 356.21 L588.63 356.12 L590.03 356.03 L591.43 355.94 L592.82 355.85 L594.22 355.76 L595.62 355.67 L597.02 355.57 L598.42 355.48 L599.82 355.38 L601.22 355.29 L602.62 355.19 L604.02 355.09 L605.42 354.99 L606.82 354.89 L608.22 354.79 L609.62 354.69 L611.03 354.58 L612.43 354.48 L613.83 354.37 L615.24 354.27 L616.64 354.16 L618.04 354.05 L619.45 353.95 L620.85 353.84 L622.26 353.73 L623.66 353.61 L625.07 353.49 L626.47 353.37 L627.87 353.24 L629.27 353.11 L630.66 352.97 L632.05 352.81 L633.44 352.65 L634.83 352.48 L636.21 352.29 L637.58 352.09 L638.95 351.88 L640.31 351.64 L641.66 351.40 L643.01 351.13 L644.35 350.84 L645.68 350.54 L647.00 350.21 L648.32 349.86 L649.62 349.48 L650.91 349.08 L652.20 348.66 L653.47 348.21 L654.73 347.73 L655.97 347.21 L657.21 346.67 L658.43 346.10 L659.63 345.50 L660.83 344.86 L662.00 344.18 L663.17 343.47 L664.31 342.72 L665.44 341.94 L666.56 341.11 L667.65 340.25 L668.73 339.34 L669.79 338.39 L670.83 337.39 L671.85 336.35 L672.86 335.26"/>
<path d="M280.87 314.89 L281.32 316.18 L281.80 317.46 L282.32 318.72 L282.87 319.97 L283.46 321.21 L284.08 322.43 L284.74 323.64 L285.42 324.83 L286.14 326.00 L286.89 327.16 L287.67 328.31 L288.48 329.43 L289.32 330.54 L290.18 331.63 L291.07 332.70 L291.98 333.75 L292.92 334.79 L293.88 335.80 L294.87 336.79 L295.87 337.76 L296.90 338.71 L297.95 339.64 L299.01 340.54 L300.10 341.43 L301.20 342.29 L302.32 343.12 L303.45 343.93 L304.60 344.72 L305.77 345.48 L306.95 346.22 L308.14 346.93 L309.34 347.62 L310.56 348.28 L311.79 348.91 L313.02 349.51 L314.27 350.08 L315.53 350.63 L316.79 351.15 L318.06 351.64 L319.34 352.10 L320.63 352.54 L321.92 352.95 L323.22 353.33 L324.53 353.69 L325.84 354.03 L327.16 354.34 L328.48 354.64 L329.81 354.91 L331.15 355.16 L332.49 355.40 L333.83 355.61 L335.18 355.81 L336.54 355.99 L337.90 356.16 L339.26 356.31 L340.62 356.45 L341.99 356.58 L343.36 356.69 L344.73 356.80 L346.11 356.89 L347.49 356.97 L348.87 357.05 L350.25 357.12 L351.64 357.18 L353.02 357.23 L354.41 357.28 L355.80 357.33 L357.18 357.37 L358.57 357.41 L359.96 357.45 L361.35 357.49 L362.73 357.53 L364.12 357.56 L365.51 357.60 L366.90 357.64 L368.28 357.67 L369.67 357.71 L371.06 357.74 L372.44 357.77 L373.83 357.81 L375.21 357.84 L376.60 357.87 L377.99 357.90 L379.37 357.93 L380.76 357.96 L382.14 357.99 L383.53 358.01 L384.91 358.04 L386.29 358.07 L387.68 358.09 L389.06 358.12 L390.45 358.14 L391.83 358.16 L393.21 358.19 L394.60 358.21 L395.98 358.23 L397.36 358.25 L398.75 358.27 L400.13 358.29 L401.51 358.31 L402.89 358.33 L404.28 358.35 L405.66 358.36 L407.04 358.38 L408.42 358.39 L409.81 358.41 L411.19 358.42 L412.57 358.43 L413.95 358.45 L415.33 358.46 L416.71 358.47 L418.09 358.48 L419.47 358.49 L420.86 358.50 L422.24 358.51 L423.62 358.51 L425.00 358.52 L426.38 358.53 L427.76 358.53 L429.14 358.54 L430.52 358.54 L431.90 358.54 L433.28 358.54 L434.66 358.55 L436.04 358.55 L437.42 358.55 L438.80 358.54 L440.18 358.54 L441.55 358.54 L442.93 358.54 L444.31 358.53 L445.69 358.53 L447.07 358.52 L448.45 358.52 L449.83 358.51 L451.21 358.50 L452.59 358.49 L453.96 358.49 L455.34 358.48 L456.72 358.47 L458.10 358.45 L459.48 358.44 L460.86 358.43 L462.24 358.41 L463.61 358.40 L464.99 358.38 L466.37 358.37 L467.75 358.35 L469.13 358.33 L470.50 358.31 L471.88 358.30 L473.26 358.28 L474.64 358.25 L476.01 358.23 L477.39 358.21 L478.77 358.19 L480.15 358.16 L481.53 358.14 L482.90 358.11 L484.28 358.09 L485.66 358.06 L487.04 358.03 L488.41 358.00 L489.79 357.97 L491.17 357.94 L492.55 357.91 L493.92 357.88 L495.30 357.84 L496.68 357.81 L498.06 357.77 L499.43 357.74 L500.81 357.70 L502.19 357.67 L503.57 357.63 L504.94 357.59 L506.32 357.55 L507.70 357.51 L509.08 357.47 L510.45 357.42 L511.83 357.38 L513.21 357.34 L514.59 357.29 L515.96 357.25 L517.34 357.20 L518.72 357.15 L520.10 357.11 L521.47 357.06 L522.85 357.01 L524.23 356.96 L525.61 356.90 L526.98 356.85 L528.36 356.80 L529.74 356.74 L531.12 356.69 L532.50 356.63 L533.87 356.58 L535.25 356.52 L536.63 356.46 L538.01 356.40 L539.39 356.34 L540.77 356.28 L542.14 356.22 L543.52 356.15 L544.90 356.09 L546.28 356.02 L547.66 355.96 L549.04 355.89 L550.42 355.83 L551.79 355.76 L553.17 355.69 L554.55 355.62 L555.93 355.55 L557.31 355.47 L558.69 355.40 L560.07 355.33 L561.45 355.25 L562.83 355.18 L564.21 355.10 L565.59 355.02 L566.97 354.94 L568.35 354.87 L569.73 354.79 L571.11 354.70 L572.49 354.62 L573.87 354.54 L575.25 354.46 L576.63 354.37 L578.01 354.28 L579.39 354.20 L580.77 354.11 L582.15 354.02 L583.53 353.93 L584.92 353.84 L586.30 353.75 L587.68 353.66 L589.06 353.57 L590.44 353.47 L591.82 353.38 L593.21 353.28 L594.59 353.18 L595.97 353.08 L597.35 352.99 L598.74 352.89 L600.12 352.78 L601.50 352.68 L602.88 352.58 L604.27 352.48 L605.65 352.37 L607.04 352.27 L608.42 352.16 L609.80 352.05 L611.19 351.94 L612.57 351.83 L613.96 351.72 L615.34 351.61 L616.72 351.50 L618.11 351.39 L619.49 351.27 L620.88 351.15 L622.27 351.04 L623.65 350.92 L625.03 350.80 L626.42 350.67 L627.80 350.54 L629.18 350.40 L630.56 350.25 L631.93 350.10 L633.31 349.93 L634.68 349.76 L636.04 349.57 L637.40 349.38 L638.76 349.17 L640.12 348.94 L641.47 348.70 L642.81 348.45 L644.15 348.18 L645.48 347.89 L646.81 347.58 L648.13 347.25 L649.44 346.90 L650.75 346.53 L652.05 346.14 L653.34 345.72 L654.62 345.28 L655.89 344.81 L657.16 344.32 L658.41 343.80 L659.66 343.25 L660.90 342.67 L662.12 342.07 L663.34 341.43 L664.54 340.75 L665.73 340.05 L666.91 339.31 L668.08 338.53 L669.24 337.72 L670.39 336.88 L671.52 335.99 L672.63 335.07"/>
</g>
<path d="M660 213.6 L665.5 216.9 L672.5 224.4 L665.5 218.9 L660 216 Z M660 345.4 L665.5 342.1 L672.5 334.6 L665.5 340.1 L660 343 Z" fill="#111" stroke="#111" stroke-width="0.9" stroke-linejoin="round"/>
<g stroke="#111" stroke-width="1.2" fill="none">
<circle cx="340" cy="279.5" r="13.0"/>
<circle cx="340" cy="279.5" r="10.8"/>
<circle cx="340" cy="279.5" r="7.8"/>
</g>
<ellipse cx="276.6" cy="279.6" rx="2.3" ry="7.8" fill="#999"/>
<ellipse cx="277.3" cy="279.6" rx="1.5" ry="7.2" fill="#1a1a1a"/>

<g stroke="#444" stroke-width="1.4" fill="none">
<path d="M223.75 470.8 H258"/>
<path d="M227 451.25 V612.2"/>
<path d="M224 593 H266 M272.5 593 H329"/>
<path d="M256 645 H759.7"/>
</g>
<g fill="#222">
<path d="M227 469.8 L225 461.2 L229 461.2 Z"/>
<path d="M227 593.4 L225 604 L229 604 Z"/>
</g>
<text transform="translate(215.4,524.8) rotate(-90)" font-size="21.5" text-anchor="middle" fill="#1a1a1a">420</text>

<g stroke="#111" stroke-width="1.6" fill="none">
<path d="M257 486 L258 474 Q258.6 470.8 261.5 470.8 Q505 469.2 752.4 470.8 Q756 471 756 474 L756.3 485.2 Q756.2 486 755.4 486 Z"/>
<path d="M276.2 486.3 C276.8 490.9 277.2 495.0 278.0 500.0 C278.9 506.0 280.1 513.0 281.5 520.0 C283.1 527.9 285.4 537.5 287.0 545.0 C288.3 551.2 289.3 557.1 290.6 562.0 C291.6 565.8 292.7 569.0 294.0 572.0 C295.2 574.6 296.3 577.0 298.0 579.0 C299.7 581.0 301.8 582.5 304.0 584.0 C306.4 585.6 308.9 587.0 312.0 588.0 C315.7 589.2 320.7 589.2 325.0 589.8 L400 589.5 L560 584.8 L660 582.6 C677 580.5 686 568 690.4 559.2 L727.2 486.3"/>
<path d="M326.6 589.8 L329 592.8 H339.8 L346.4 595.8 L400 594.8 L480 592 L560 590 L640 588.6 L653.2 588 L656.8 583.8"/>
</g>
<g stroke="#111" stroke-width="1.8" fill="none">
<path d="M278.0 489.4 C282.0 489.2 285.5 488.6 290.0 488.7 C295.8 488.8 302.7 489.8 310.0 490.6 C319.0 491.6 328.3 493.0 340.0 494.6 C356.6 496.9 378.6 500.2 400.0 503.5 C424.8 507.3 453.4 512.0 480.0 516.5 C506.7 521.1 536.4 526.6 560.0 530.8 C578.6 534.1 596.4 537.3 610.0 539.6 C619.4 541.2 626.8 542.2 634.0 543.6 C639.9 544.8 644.7 545.9 650.0 547.2 C655.3 548.5 661.8 550.1 666.0 551.6 C668.9 552.7 670.8 553.8 673.2 554.9"/>
<path d="M278.0 489.4 C283.3 490.5 288.1 491.6 294.0 492.6 C301.2 493.8 310.2 494.9 318.0 496.0 C325.5 497.0 330.9 497.5 340.0 498.8 C355.1 500.9 378.6 504.3 400.0 507.6 C424.8 511.5 453.3 516.2 480.0 520.8 C506.7 525.4 536.4 530.9 560.0 535.0 C578.6 538.3 596.4 541.2 610.0 543.6 C619.5 545.3 626.8 546.6 634.0 548.0 C639.9 549.1 644.7 550.1 650.0 551.2 C655.3 552.3 661.6 554.0 666.0 554.8 C669.0 555.3 671.1 555.5 673.6 555.8"/>
</g>
<g stroke="#111" stroke-width="2.3" fill="none">
<path d="M266.6 488.3 V597 M271.6 488.3 V597"/>
<path d="M739.4 488.3 V597 M745 488.3 V597"/>
</g>
<rect x="264" y="599.6" width="8.8" height="12" fill="#4a4a4a"/>
<rect x="739.6" y="599.6" width="9.6" height="12" fill="#4a4a4a"/>
<path d="M266.2 599.6 V611.6 M270.2 599.6 V611.6 M742.5 599.6 V611.6 M746.5 599.6 V611.6" stroke="#959595" stroke-width="1.8"/>
<path d="M269.1 587 V595.5 M742.2 587 V595.5" stroke="#999" stroke-width="1.8" stroke-dasharray="1.6 1.6"/>
<rect x="260.15" y="598.1" width="489.5" height="14.7" fill="none" stroke="#111" stroke-width="3.2"/>
<path d="M293.9 629.5 L293.6 634 L291.1 637.5 V644.6 H294.6 V641.2 Q296.8 639.2 298.9 641.2 V644.6 H302.4 V637.5 L299.9 634 L299.6 629.5 Z" fill="#c8c8c8" stroke="#222" stroke-width="1.1"/>
<rect x="294.1" y="621.3" width="5.4" height="9" rx="1.5" fill="#aaa" stroke="#1a1a1a" stroke-width="1.3"/>
<path d="M291.9 613.8 H301.6 L300.9 616.2 H292.6 Z" fill="#111"/>
<path d="M292.6 616.2 H300.9 L298.9 619.8 H294.6 Z" fill="#9a9a9a" stroke="#333" stroke-width="0.6"/>
<rect x="295.1" y="619.6" width="3.4" height="1.9" fill="#222"/>
<circle cx="296.8" cy="632" r="1.1" fill="#111"/>
<path d="M497.7 629.5 L497.3 634 L494.9 637.5 V644.6 H498.3 V641.2 Q500.5 639.2 502.7 641.2 V644.6 H506.1 V637.5 L503.7 634 L503.3 629.5 Z" fill="#c8c8c8" stroke="#222" stroke-width="1.1"/>
<rect x="497.8" y="621.3" width="5.4" height="9" rx="1.5" fill="#aaa" stroke="#1a1a1a" stroke-width="1.3"/>
<path d="M495.7 613.8 H505.3 L504.6 616.2 H496.4 Z" fill="#111"/>
<path d="M496.4 616.2 H504.6 L502.7 619.8 H498.3 Z" fill="#9a9a9a" stroke="#333" stroke-width="0.6"/>
<rect x="498.8" y="619.6" width="3.4" height="1.9" fill="#222"/>
<circle cx="500.5" cy="632" r="1.1" fill="#111"/>
<path d="M708.6 629.5 L708.2 634 L705.8 637.5 V644.6 H709.2 V641.2 Q711.4 639.2 713.6 641.2 V644.6 H717.0 V637.5 L714.6 634 L714.2 629.5 Z" fill="#c8c8c8" stroke="#222" stroke-width="1.1"/>
<rect x="708.7" y="621.3" width="5.4" height="9" rx="1.5" fill="#aaa" stroke="#1a1a1a" stroke-width="1.3"/>
<path d="M706.6 613.8 H716.2 L715.5 616.2 H707.3 Z" fill="#111"/>
<path d="M707.3 616.2 H715.5 L713.6 619.8 H709.2 Z" fill="#9a9a9a" stroke="#333" stroke-width="0.6"/>
<rect x="709.7" y="619.6" width="3.4" height="1.9" fill="#222"/>
<circle cx="711.4" cy="632" r="1.1" fill="#111"/>
<circle cx="679.6" cy="565.5" r="0.8" fill="#444"/>

<g stroke="#111" stroke-width="1.6" fill="none" stroke-linejoin="miter">
<path d="M306.8 719.4 L715.1 927.3 L711.2 935.9 L303.5 728.1 Z"/>
<path d="M303.75 926.6 L710.8 719.7 L715 728.1 L306.9 936.3 Z"/>
</g>
<g stroke="#111" stroke-width="1.1" fill="none">
<circle cx="307.7" cy="725.1" r="1.5"/>
<circle cx="710.3" cy="930.3" r="1.5"/>
<circle cx="307.8" cy="930.2" r="1.5"/>
<circle cx="710.3" cy="725.3" r="1.5"/>
</g>
<path d="M406.6 777.6h0 M416.0 778.1h0 M422.3 785.6h0 M431.7 786.1h0 M438.1 793.6h0 M447.5 794.1h0 M453.8 801.6h0 M463.2 802.1h0 M469.6 809.6h0 M478.9 810.2h0 M485.3 817.7h0 M494.7 818.2h0 M516.8 833.7h0 M526.2 834.2h0 M532.5 841.7h0 M541.9 842.2h0 M548.3 849.7h0 M557.7 850.3h0 M564.0 857.8h0 M573.4 858.3h0 M579.8 865.8h0 M589.2 866.3h0 M595.5 873.8h0 M604.9 874.3h0 M406.7 877.7h0 M416.1 877.1h0 M422.5 869.6h0 M431.9 869.1h0 M438.2 861.6h0 M447.6 861.1h0 M454.0 853.6h0 M463.4 853.1h0 M469.7 845.6h0 M479.1 845.1h0 M485.5 837.6h0 M494.9 837.1h0 M517.0 821.5h0 M526.3 821.0h0 M532.7 813.5h0 M542.1 813.0h0 M548.5 805.5h0 M557.8 805.0h0 M564.2 797.5h0 M573.6 797.0h0 M579.9 789.5h0 M589.3 789.0h0 M595.7 781.4h0 M605.1 780.9h0" stroke="#111" stroke-width="3.0" stroke-linecap="round"/>
<g stroke="#111" stroke-width="2.2" fill="none">
<path d="M711.2 935.9 H814.8"/>
<path d="M710.8 719.6 H812.75"/>
</g>
<g stroke="#111" stroke-width="1.6" fill="none">
<path d="M710.8 719.7 L690.9 676"/>
<path d="M303.75 926.6 L283 882.5"/>
</g>
<path d="M298 894.6 L692.5 694.6" stroke="#111" stroke-width="2" stroke-dasharray="4.5 5.5" fill="none"/>
<g fill="#111">
<path d="M292.5 897.4 L300.5 890.8 L303.2 896.2 Z"/>
<path d="M698.2 691.7 L690.2 698.3 L687.5 692.9 Z"/>
</g>
<text transform="translate(517.2,776.2) rotate(-26.7)" font-size="23.2" font-style="italic" fill="#1a1a1a" stroke="#1a1a1a" stroke-width="0.25">1420</text>

<path d="M792.5 728 V733.75" stroke="#111" stroke-width="2"/>
<path d="M792.5 742.5 V918" stroke="#111" stroke-width="2" stroke-dasharray="5 7.92" fill="none"/>
<g fill="#111">
<path d="M792.5 720.5 L789.2 728.6 L795.9 728.6 Z"/>
<path d="M792.4 934 L789 925.5 L795.9 925.5 Z"/>
</g>
<text transform="translate(779.5,913.75) rotate(-90)" font-size="24" font-style="italic" fill="#1a1a1a" stroke="#1a1a1a" stroke-width="0.3" textLength="157" lengthAdjust="spacingAndGlyphs">регулируется</text>
</svg>
</body></html>
